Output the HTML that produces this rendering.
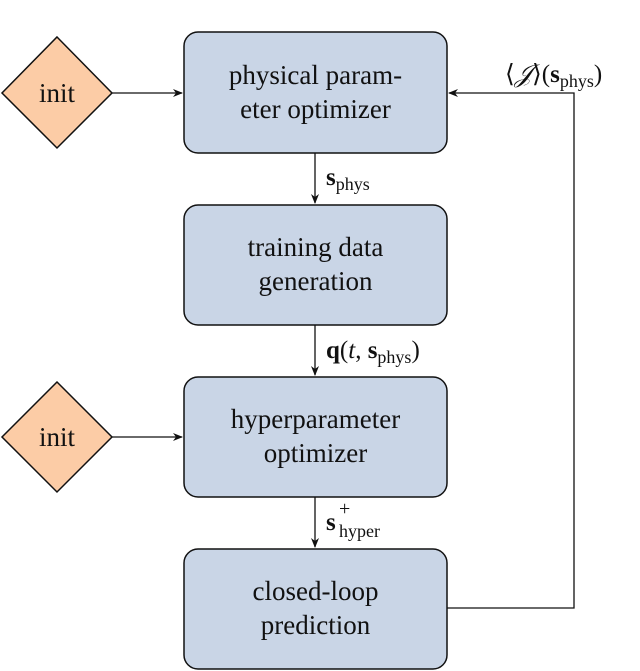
<!DOCTYPE html>
<html><head><style>
html,body{margin:0;padding:0;background:#fff;}
body{position:relative;width:640px;height:671px;overflow:hidden;font-family:"Liberation Serif","Times New Roman",Times,serif;color:#111;}
svg{position:absolute;left:0;top:0;display:block}
.t{position:absolute;font-family:"Liberation Serif","Times New Roman",Times,serif;font-size:27px;line-height:34px;text-align:center;white-space:nowrap;}
.b{left:184px;width:263px;}
.l{position:absolute;font-family:"Liberation Serif","Times New Roman",Times,serif;font-size:25px;white-space:nowrap;line-height:30px;}
.l sub{font-size:18px;vertical-align:-5px;line-height:0;}
.l sup{font-size:20px;line-height:0;}
</style></head><body>
<svg width="640" height="671" viewBox="0 0 640 671" xmlns="http://www.w3.org/2000/svg">
<defs><marker id="a" markerWidth="10" markerHeight="8" refX="9" refY="4" orient="auto" markerUnits="userSpaceOnUse"><path d="M0,0 L10,4 L0,8 L3,4 Z" fill="#111"/></marker></defs>
<g fill="#c9d5e6" stroke="#111" stroke-width="1.5">
<rect x="184" y="32" width="263" height="121" rx="14"/>
<rect x="184" y="205" width="263" height="120" rx="14"/>
<rect x="184" y="377" width="263" height="120" rx="14"/>
<rect x="184" y="549" width="263" height="120" rx="14"/>
</g>
<g fill="#fccca6" stroke="#111" stroke-width="1.5">
<polygon points="57,37 112,93 57,148 2,93"/>
<polygon points="57,382 112,437 57,492 2,437"/>
</g>
<g stroke="#111" stroke-width="1.3" fill="none">
<line x1="112" y1="93" x2="182" y2="93" marker-end="url(#a)"/>
<line x1="112" y1="437" x2="182" y2="437" marker-end="url(#a)"/>
<line x1="315" y1="153" x2="315" y2="203" marker-end="url(#a)"/>
<line x1="315" y1="325" x2="315" y2="375" marker-end="url(#a)"/>
<line x1="315" y1="497" x2="315" y2="547" marker-end="url(#a)"/>
<polyline points="447,608 574,608 574,93 449,93" marker-end="url(#a)"/>
</g>
</svg>
<div class="t" style="left:2px;width:110px;top:76px">init</div>
<div class="t" style="left:2px;width:110px;top:420px">init</div>
<div class="t b" style="top:58px">physical param-<br>eter optimizer</div>
<div class="t b" style="top:230px">training data<br>generation</div>
<div class="t b" style="top:402px">hyperparameter<br>optimizer</div>
<div class="t b" style="top:574px">closed-loop<br>prediction</div>
<div class="l" style="left:326px;top:163px"><b>s</b><sub>phys</sub></div>
<div class="l" style="left:326px;top:336px"><b>q</b>(<i>t</i>, <b>s</b><sub>phys</sub>)</div>
<div class="l" style="left:326px;top:508px"><b>s</b></div>
<div class="l" style="left:339px;top:494px;font-size:20px">+</div>
<div class="l" style="left:339px;top:516px;font-size:18px">hyper</div>
<div class="l" style="left:505px;top:60px">⟨<i>𝒥</i>⟩(<b>s</b><sub>phys</sub>)</div>
</body></html>
